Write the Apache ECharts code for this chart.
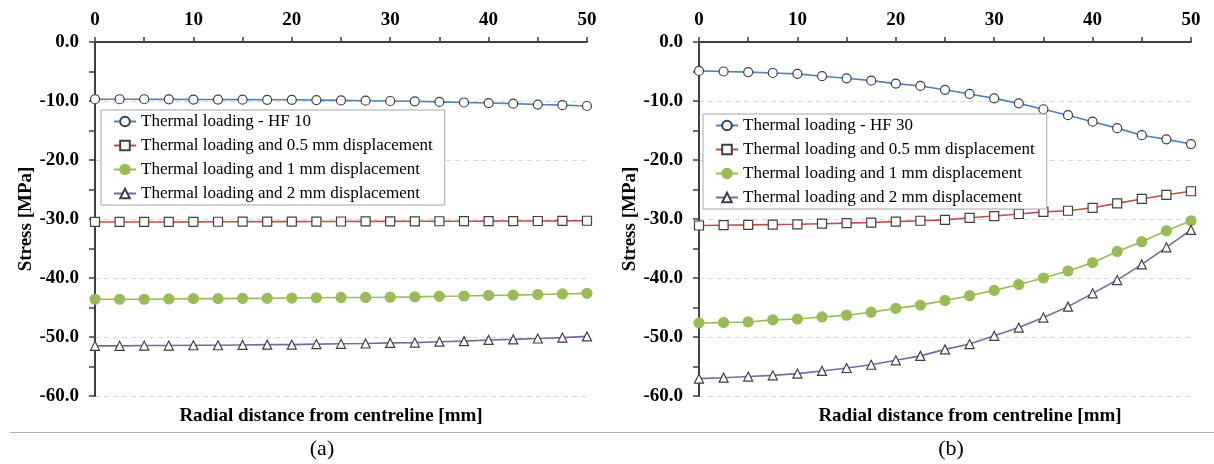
<!DOCTYPE html>
<html>
<head>
<meta charset="utf-8">
<script src="https://cdn.jsdelivr.net/npm/echarts@6/dist/echarts.min.js"></script>
<style>html,body{margin:0;padding:0;background:#fff}#c{width:1214px;height:464px}</style>
</head>
<body>
<div id="c"></div>
<script>
const xValues = [0,2.5,5,7.5,10,12.5,15,17.5,20,22.5,25,27.5,30,32.5,35,37.5,40,42.5,45,47.5,50];
const seriesNamesA = ['Thermal loading - HF 10','Thermal loading and 0.5 mm displacement','Thermal loading and 1 mm displacement','Thermal loading and 2 mm displacement'];
const seriesNamesB = ['Thermal loading - HF 30','Thermal loading and 0.5 mm displacement','Thermal loading and 1 mm displacement','Thermal loading and 2 mm displacement'];
// Chart (a)
const hf10 = [-9.7,-9.7,-9.7,-9.72,-9.75,-9.75,-9.77,-9.8,-9.8,-9.85,-9.9,-9.95,-10.0,-10.05,-10.15,-10.25,-10.35,-10.45,-10.6,-10.7,-10.85];
const disp05A = [-30.5,-30.5,-30.5,-30.5,-30.48,-30.47,-30.46,-30.45,-30.44,-30.43,-30.42,-30.41,-30.4,-30.39,-30.38,-30.37,-30.36,-30.35,-30.34,-30.32,-30.3];
const disp1A = [-43.6,-43.6,-43.6,-43.55,-43.5,-43.5,-43.45,-43.45,-43.4,-43.35,-43.3,-43.3,-43.25,-43.2,-43.1,-43.05,-42.95,-42.9,-42.8,-42.7,-42.6];
const disp2A = [-51.5,-51.5,-51.45,-51.45,-51.4,-51.4,-51.35,-51.3,-51.3,-51.2,-51.15,-51.1,-51.0,-50.95,-50.8,-50.7,-50.5,-50.4,-50.25,-50.1,-49.9];
// Chart (b)
const hf30 = [-4.9,-5.0,-5.1,-5.25,-5.4,-5.8,-6.15,-6.55,-7.05,-7.45,-8.1,-8.8,-9.55,-10.4,-11.4,-12.4,-13.5,-14.6,-15.8,-16.5,-17.3];
const disp05B = [-31.1,-31.05,-31.0,-30.95,-30.9,-30.8,-30.7,-30.6,-30.45,-30.3,-30.15,-29.8,-29.5,-29.15,-28.8,-28.6,-28.1,-27.35,-26.6,-25.9,-25.3];
const disp1B = [-47.6,-47.55,-47.45,-47.1,-46.95,-46.6,-46.3,-45.8,-45.15,-44.6,-43.8,-43.0,-42.1,-41.1,-40.0,-38.8,-37.4,-35.5,-33.85,-32.0,-30.3];
const disp2B = [-57.05,-56.9,-56.7,-56.5,-56.2,-55.75,-55.25,-54.7,-53.95,-53.2,-52.1,-51.2,-49.8,-48.4,-46.7,-44.85,-42.6,-40.35,-37.7,-34.8,-31.85];
const xAxisName = 'Radial distance from centreline [mm]';
const yAxisName = 'Stress [MPa]';
const captions = ['(a)','(b)'];

const SERIF = '"Liberation Serif","Times New Roman",serif';
const AX = '#404040';
const styles = [
  {line:'#4F81BD', symbol:'circle', size:9, fill:'#fff', border:'#404040'},
  {line:'#C0504D', symbol:'rect', size:9, fill:'#fff', border:'#404040'},
  {line:'#9BBB59', symbol:'circle', size:10, fill:'#9BBB59', border:'#9BBB59'},
  {line:'#8064A2', symbol:'triangle', size:9, fill:'#fff', border:'#404040'}
];
function pairs(ys){ return xValues.map((x,i)=>[x, ys[i]]); }

function topX(gi){
  return {gridIndex:gi, type:'value', position:'top', min:0, max:50, interval:10,
    axisLine:{onZero:false, lineStyle:{color:AX, width:2}},
    axisTick:{show:true, inside:false, length:5, lineStyle:{color:AX, width:1.5}},
    minorTick:{show:true, splitNumber:2, length:5, lineStyle:{color:AX, width:1.5}},
    axisLabel:{color:'#000', fontFamily:SERIF, fontWeight:'bold', fontSize:19, margin:12},
    splitLine:{show:false}};
}
function yAx(gi){
  return {gridIndex:gi, type:'value', min:-60, max:0, interval:10,
    axisLine:{show:true, onZero:false, lineStyle:{color:AX, width:2}},
    axisTick:{show:true, inside:false, length:6, lineStyle:{color:AX, width:1.5}},
    minorTick:{show:true, splitNumber:2, length:6, lineStyle:{color:AX, width:1.5}},
    axisLabel:{color:'#000', fontFamily:SERIF, fontWeight:'bold', fontSize:19, margin:16,
      formatter:v=> v===0 ? '0.0' : v.toFixed(1)},
    splitLine:{show:true, lineStyle:{color:'#d9d9d9', type:[5,4], width:1}},
    name:yAxisName, nameLocation:'middle', nameGap:57, nameRotate:90,
    nameTextStyle:{color:'#000', fontFamily:SERIF, fontWeight:'bold', fontSize:19}};
}
function mkSeries(names, datas, gi){
  return datas.map((d,i)=>({
    name:names[i], type:'line', xAxisIndex:gi, yAxisIndex:gi, data:pairs(d),
    symbol:styles[i].symbol, symbolSize:styles[i].size, showAllSymbol:true,
    lineStyle:{color:styles[i].line, width:1.6},
    itemStyle:{color:styles[i].fill, borderColor:styles[i].border, borderWidth:1.2},
    emphasis:{disabled:true}, animation:false, z: 2+i
  }));
}
function legend(names, left, top){
  return {show:true, orient:'vertical', left:left, top:top, data:names.map(n=>({name:n})),
    backgroundColor:'#fff', borderColor:'#a6a6a6', borderWidth:1,
    padding:[3,12,3,12], itemGap:7, itemWidth:22, itemHeight:12,
    selectedMode:false,
    textStyle:{color:'#000', fontFamily:SERIF, fontSize:17}};
}
function textTitle(t, x, y, size, weight){
  return {text:t, left:x, top:y, textAlign:'center', padding:0,
    textStyle:{color:'#000', fontFamily:SERIF, fontWeight:weight, fontSize:size}};
}

const chart = echarts.init(document.getElementById('c'), null, {renderer:'canvas'});
chart.setOption({
  animation:false,
  grid:[
    {left:95, top:42, width:492, height:354},
    {left:699, top:42, width:492, height:354}
  ],
  xAxis:[topX(0), topX(1)],
  yAxis:[yAx(0), yAx(1)],
  legend:[legend(seriesNamesA, 101, 110), legend(seriesNamesB, 703, 114)],
  title:[
    textTitle(xAxisName, 331, 407, 19, 'bold'),
    textTitle(xAxisName, 970, 407, 19, 'bold'),
    textTitle(captions[0], 322, 438, 22, 'normal'),
    textTitle(captions[1], 951, 438, 22, 'normal')
  ],
  graphic:[{type:'line', shape:{x1:10, y1:432.5, x2:1214, y2:432.5}, style:{stroke:'#b0b0b0', lineWidth:1}}],
  series:[].concat(
    mkSeries(seriesNamesA, [hf10, disp05A, disp1A, disp2A], 0),
    mkSeries(seriesNamesB, [hf30, disp05B, disp1B, disp2B], 1)
  )
});
</script>
</body>
</html>
